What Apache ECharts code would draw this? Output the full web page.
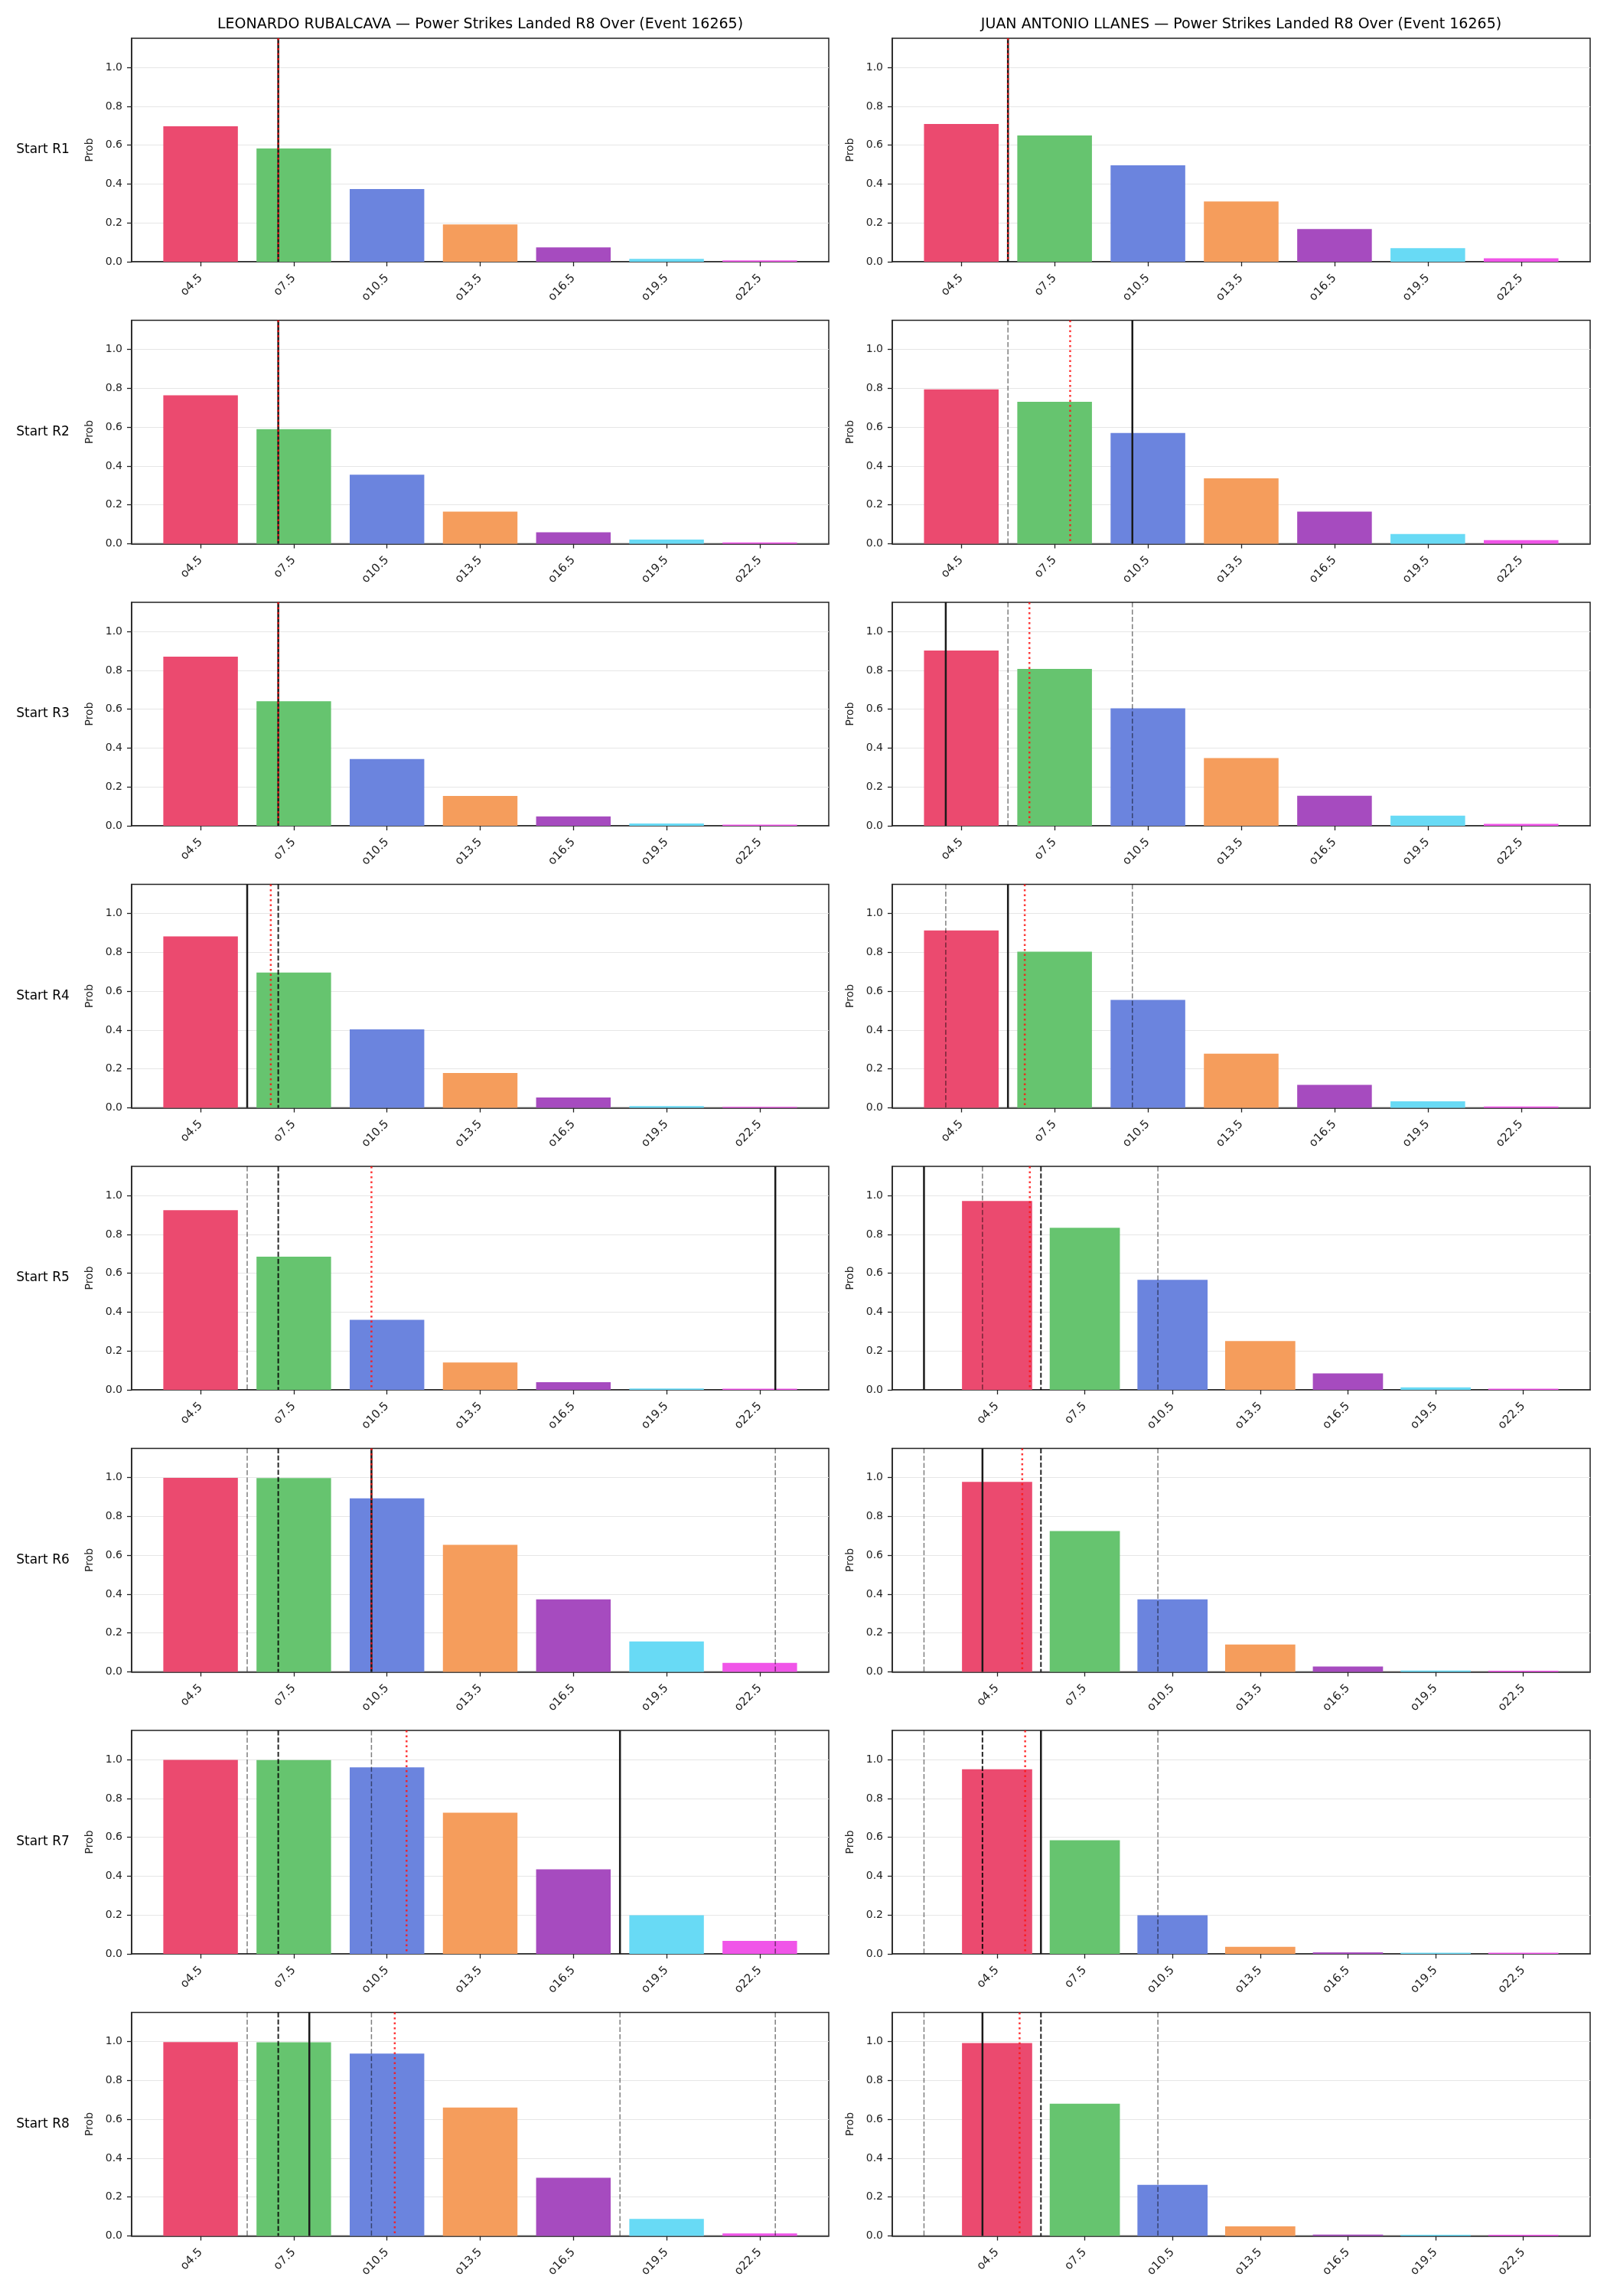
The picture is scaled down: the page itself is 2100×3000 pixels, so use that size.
<!DOCTYPE html>
<html><head><meta charset="utf-8">
<script src="https://cdn.jsdelivr.net/npm/echarts@6/dist/echarts.min.js"></script>
<style>html,body{margin:0;padding:0;background:#fff}#c{width:2100px;height:3000px}</style>
</head><body><div id="c"></div>
<script>
// ---------- data ----------
const categories = ['o4.5', 'o7.5', 'o10.5', 'o13.5', 'o16.5', 'o19.5', 'o22.5'];
const categoryLines = [4.5, 7.5, 10.5, 13.5, 16.5, 19.5, 22.5];
const roundLabels = ['Start R1', 'Start R2', 'Start R3', 'Start R4', 'Start R5', 'Start R6', 'Start R7', 'Start R8'];
const fighterTitles = [
  'LEONARDO RUBALCAVA \u2014 Power Strikes Landed R8 Over (Event 16265)',
  'JUAN ANTONIO LLANES \u2014 Power Strikes Landed R8 Over (Event 16265)'
];
const yTicks = [0, 0.2, 0.4, 0.6, 0.8, 1.0];
const yMax = 1.15;

// over-probabilities per start round (rows) and line (columns)
const rubalcavaProbs = [
  [0.697, 0.583, 0.374, 0.192, 0.074, 0.015, 0.007],
  [0.764, 0.590, 0.355, 0.165, 0.059, 0.022, 0.007],
  [0.870, 0.641, 0.344, 0.154, 0.048, 0.012, 0.006],
  [0.882, 0.696, 0.404, 0.179, 0.053, 0.009, 0.005],
  [0.925, 0.685, 0.360, 0.141, 0.039, 0.007, 0.006],
  [0.998, 0.997, 0.893, 0.654, 0.373, 0.157, 0.046],
  [0.998, 0.997, 0.960, 0.727, 0.435, 0.199, 0.067],
  [0.997, 0.996, 0.938, 0.661, 0.299, 0.088, 0.013]
];
const llanesProbs = [
  [0.709, 0.650, 0.496, 0.310, 0.168, 0.070, 0.018],
  [0.795, 0.731, 0.570, 0.337, 0.165, 0.050, 0.019],
  [0.902, 0.807, 0.605, 0.349, 0.155, 0.052, 0.010],
  [0.913, 0.803, 0.555, 0.279, 0.118, 0.033, 0.007],
  [0.972, 0.834, 0.566, 0.251, 0.085, 0.013, 0.006],
  [0.978, 0.725, 0.373, 0.141, 0.028, 0.007, 0.006],
  [0.950, 0.585, 0.199, 0.036, 0.008, 0.006, 0.006],
  [0.992, 0.680, 0.263, 0.049, 0.007, 0.006, 0.006]
];

// reference lines (in strikes)
const rubalcavaSolid = [7, 7, 7, 6, 23, 10, 18, 8];
const rubalcavaMean = [7, 7, 7, 6.76, 10, 10, 11.13, 10.75];
const rubalcavaMedian = [null, null, null, 7, 7, 7, 7, 7];
const rubalcavaQuantiles = [[], [], [], [], [6], [6, 23], [6, 10, 23], [6, 10, 18, 23]];
const llanesSolid = [6, 10, 4, 6, 2, 4, 6, 4];
const llanesMean = [6, 8, 6.69, 6.54, 5.62, 5.36, 5.46, 5.27];
const llanesMedian = [null, null, null, null, 6, 6, 4, 6];
const llanesQuantiles = [[], [6], [6, 10], [4, 10], [4, 10], [2, 10], [2, 10], [2, 10]];

// ---------- styles / layout ----------
const barColors = ['#EB4A6F', '#66C46F', '#6B84DE', '#F59D5C', '#A64BBF', '#68DAF5', '#F055E8'];
const FONT = 'DejaVu Sans';
const lineStyles = [
  { color: 'rgba(0,0,0,0.5)', width: 1.5, dash: [6.5, 3] },   // quantile (gray dashed)
  { color: 'rgba(0,0,0,0.85)', width: 2, dash: [6.5, 2.8] },  // median (black dashed)
  { color: '#1a1a1a', width: 2.5, dash: null },              // solid
  { color: 'rgba(255,20,20,0.85)', width: 2.5, dash: [2.5, 4] } // mean (red dotted)
];
const colLeft = [172, 1166];
const colWidth = [911, 912];
const rowTop0 = 50, rowStep = 368.5, gridH = 292;

const fighters = [
  { probs: rubalcavaProbs, solid: rubalcavaSolid, mean: rubalcavaMean, median: rubalcavaMedian, quant: rubalcavaQuantiles },
  { probs: llanesProbs, solid: llanesSolid, mean: llanesMean, median: llanesMedian, quant: llanesQuantiles }
];

// map a strike value onto the bar index scale (o4.5 -> 0, o7.5 -> 1 ...)
const toIdx = v => (v - categoryLines[0]) / (categoryLines[1] - categoryLines[0]);

const grid = [], xAxis = [], yAxis = [], series = [], graphic = [];
let k = 0;
for (let r = 0; r < 8; r++) {
  for (let c = 0; c < 2; c++) {
    const f = fighters[c];
    const lines = [];
    f.quant[r].forEach(v => lines.push([toIdx(v), 0]));
    if (f.median[r] != null) lines.push([toIdx(f.median[r]), 1]);
    lines.push([toIdx(f.solid[r]), 2]);
    lines.push([toIdx(f.mean[r]), 3]);
    let lo = -0.4, hi = categories.length - 1 + 0.4;
    lines.forEach(l => { lo = Math.min(lo, l[0]); hi = Math.max(hi, l[0]); });
    const pad = 0.05 * (hi - lo);
    const top = rowTop0 + rowStep * r;
    grid.push({ left: colLeft[c], top: top, width: colWidth[c], height: gridH, show: true,
      borderColor: '#222', borderWidth: 1.5, backgroundColor: 'transparent', containLabel: false });
    xAxis.push({ type: 'value', gridIndex: k, min: lo - pad, max: hi + pad,
      axisLine: { show: true, onZero: false, lineStyle: { color: '#222', width: 1.5 } },
      axisTick: { show: true, customValues: categories.map((_, i) => i), length: 6, lineStyle: { color: '#222', width: 1.3 } },
      axisLabel: { show: true, customValues: categories.map((_, i) => i), rotate: 45, margin: 19,
        fontSize: 15, fontFamily: FONT, color: '#222', formatter: v => categories[Math.round(v)] },
      splitLine: { show: false } });
    yAxis.push({ type: 'value', gridIndex: k, min: 0, max: yMax, interval: 0.2,
      name: 'Prob', nameLocation: 'middle', nameGap: 48, nameRotate: 90,
      nameTextStyle: { fontSize: 14, fontFamily: FONT, color: '#222' },
      axisLine: { show: true, onZero: false, lineStyle: { color: '#222', width: 1.5 } },
      axisTick: { show: true, customValues: yTicks, length: 6, lineStyle: { color: '#222', width: 1.3 } },
      axisLabel: { show: true, customValues: yTicks, margin: 12, fontSize: 14, fontFamily: FONT, color: '#222',
        formatter: v => v.toFixed(1) },
      splitLine: { show: true, lineStyle: { color: '#e6e6e6', width: 1.2 } } });
    series.push({ type: 'custom', xAxisIndex: k, yAxisIndex: k, z: 2,
      data: f.probs[r].map((v, i) => [i, v]), encode: { x: 0, y: 1 },
      renderItem: (params, api) => {
        const i = api.value(0), v = api.value(1);
        const a = api.coord([i - 0.4, v]), b = api.coord([i + 0.4, 0]);
        return { type: 'rect', shape: { x: a[0], y: a[1], width: b[0] - a[0], height: b[1] - a[1] },
          style: { fill: barColors[i] } };
      } });
    series.push({ type: 'custom', xAxisIndex: k, yAxisIndex: k, z: 5,
      data: lines, encode: { x: 0 },
      renderItem: (params, api) => {
        const x = api.value(0), s = api.value(1);
        const t = api.coord([x, yMax]), b = api.coord([x, 0]);
        const st = lineStyles[s];
        return { type: 'line', shape: { x1: t[0], y1: t[1], x2: b[0], y2: b[1] },
          style: { stroke: st.color, lineWidth: st.width, lineDash: st.dash, fill: null } };
      } });
    k++;
  }
  graphic.push({ type: 'text', x: 56, y: rowTop0 + rowStep * r + gridH / 2,
    style: { text: roundLabels[r], fontSize: 17, fontFamily: FONT, fill: '#000', align: 'center', verticalAlign: 'middle' } });
}
for (let c = 0; c < 2; c++) {
  graphic.push({ type: 'text', x: colLeft[c] + colWidth[c] / 2, y: 32,
    style: { text: fighterTitles[c], fontSize: 19, fontFamily: FONT, fill: '#000', align: 'center', verticalAlign: 'middle' } });
}

const chart = echarts.init(document.getElementById('c'), null, { renderer: 'canvas' });
chart.setOption({ animation: false, backgroundColor: '#fff', grid, xAxis, yAxis, series, graphic });
</script></body></html>
